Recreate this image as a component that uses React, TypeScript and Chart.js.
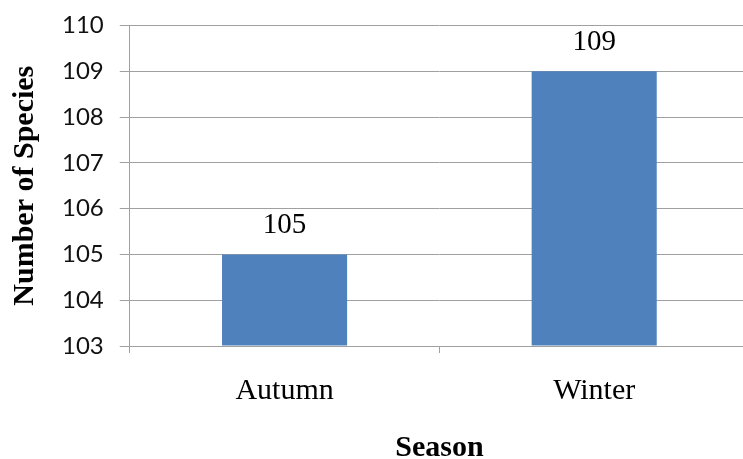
import React, { useEffect, useRef } from "react";
import { Chart, registerables } from "chart.js";

Chart.register(...registerables);

const categories = ["Autumn", "Winter"];
const speciesCounts = [105, 109];
const yMin = 103;
const yMax = 110;

const dataLabelPlugin = {
  id: "dataLabels",
  afterDatasetsDraw(chart: any) {
    const ctx = chart.ctx;
    const meta = chart.getDatasetMeta(0);
    ctx.save();
    ctx.font = '29px "Liberation Serif", serif';
    ctx.fillStyle = "#000";
    ctx.textAlign = "center";
    ctx.textBaseline = "alphabetic";
    meta.data.forEach((bar: any, i: number) => {
      ctx.fillText(String(speciesCounts[i]), bar.x, bar.y - 21);
    });
    ctx.restore();
  },
};

export default function App() {
  const canvasRef = useRef<HTMLCanvasElement | null>(null);

  useEffect(() => {
    document.body.style.margin = "0";
    const canvas = canvasRef.current;
    if (!canvas) return;
    const chart = new Chart(canvas, {
      type: "bar",
      data: {
        labels: categories,
        datasets: [
          {
            data: speciesCounts,
            backgroundColor: "#4f81bd",
            borderWidth: 0,
            base: yMin,
            categoryPercentage: 1,
            barPercentage: 0.404,
          } as any,
        ],
      },
      options: {
        animation: false,
        responsive: true,
        maintainAspectRatio: false,
        layout: { padding: { left: 7, right: 0, top: 0, bottom: -7 } },
        plugins: {
          legend: { display: false },
          tooltip: { enabled: false },
        },
        scales: {
          x: {
            grid: {
              display: true,
              offset: true,
              drawOnChartArea: false,
              drawTicks: true,
              tickLength: 7,
              color: "#a0a0a0",
            },
            border: { color: "#a0a0a0", width: 1 },
            ticks: {
              color: "#000",
              padding: 20,
              font: { family: '"Liberation Serif", serif', size: 30 },
            },
            title: {
              display: true,
              text: "Season",
              color: "#000",
              padding: { top: 1, bottom: 0 },
              font: { family: '"Liberation Serif", serif', size: 30, weight: "bold" },
            },
          },
          y: {
            min: yMin,
            max: yMax,
            ticks: {
              stepSize: 1,
              color: "#111",
              padding: 16,
              font: { family: "Lato, sans-serif", size: 24 },
            },
            grid: {
              color: "#a0a0a0",
              tickLength: 10,
            },
            border: { color: "#a0a0a0", width: 1 },
            title: {
              display: true,
              text: "Number of Species",
              color: "#000",
              padding: { top: 0, bottom: 3 },
              font: { family: '"Liberation Serif", serif', size: 30, weight: "bold" },
            },
          },
        },
      },
      plugins: [dataLabelPlugin],
    });
    return () => chart.destroy();
  }, []);

  return (
    <div style={{ position: "relative", width: 743, height: 459, overflow: "hidden" }}>
      <div style={{ position: "absolute", left: 0, top: -5, width: 749, height: 464 }}>
        <canvas ref={canvasRef} />
      </div>
    </div>
  );
}
